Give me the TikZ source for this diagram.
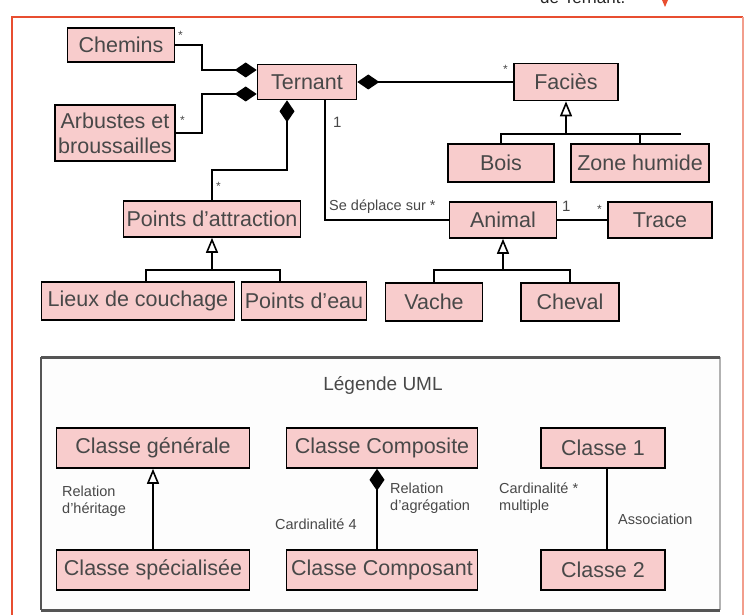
\documentclass[tikz,border=0pt]{standalone}
\usepackage{fontspec}
\setmainfont{Liberation Sans}
\usetikzlibrary{arrows.meta}
\definecolor{boxpink}{RGB}{248,204,204}
\definecolor{txtgray}{RGB}{72,72,72}
\definecolor{framered}{RGB}{232,78,48}
\definecolor{legborder}{RGB}{85,85,85}
\definecolor{legbg}{RGB}{253,253,253}
\begin{document}
\begin{tikzpicture}[x=1pt,y=-1pt,
  cls/.style={draw=black, line width=1.6pt, fill=boxpink, text=txtgray,
    font=\fontsize{21.5}{25}\selectfont, inner sep=0pt, align=center},
  conn/.style={draw=black, line width=1.6pt},
  lbl/.style={text=txtgray, font=\fontsize{14.5}{17}\selectfont, inner sep=0pt},
  mult/.style={text=txtgray, font=\fontsize{12}{14}\selectfont, inner sep=0pt},
  comp/.style={conn, {Diamond[length=22pt,width=15pt]}-},
  inh/.style={conn, {Triangle[open,length=15pt,width=12pt,line width=1.6pt]}-}
]
\useasboundingbox (0,0) rectangle (745,615);

% outer red frame and clipped header
\draw[framered, line width=1.5pt] (743,625) -- (12,625) -- (12,17) -- (743,17);
\draw[framered!55, line width=1.2pt] (743,17) -- (743,625);
\node[anchor=base west, font=\fontsize{17}{20}\selectfont, text=black!85, inner sep=0pt] (topt) at (540,4) {de Ternant.};
\fill[framered] (662,0) -- (668,0) -- (665,7) -- cycle;
\draw[framered, line width=1.2pt] (665,-4) -- (665,2);

% main diagram classes
\node[cls, minimum width=107pt, minimum height=34pt] (chemins) at (121,45) {Chemins};
\node[cls, minimum width=99pt, minimum height=35pt] (ternant) at (307,82) {Ternant};
\node[cls, minimum width=120pt, minimum height=56pt] (arbustes) at (115,133) {Arbustes et\\broussailles};
\node[cls, minimum width=104pt, minimum height=37pt] (facies) at (566,82) {Faciès};
\node[cls, minimum width=106pt, minimum height=38pt] (bois) at (501,163) {Bois};
\node[cls, minimum width=138pt, minimum height=38pt] (zone) at (640,163) {Zone humide};
\node[cls, minimum width=177pt, minimum height=36pt] (pattr) at (212,219) {Points d'attraction};
\node[cls, minimum width=107pt, minimum height=36pt] (animal) at (503,220) {Animal};
\node[cls, minimum width=104pt, minimum height=36pt] (trace) at (660,220) {Trace};
\node[cls, minimum width=193pt, minimum height=38pt] (lieux) at (138,301) {Lieux de couchage};
\node[cls, minimum width=125pt, minimum height=38pt] (peau) at (304,301) {Points d'eau};
\node[cls, minimum width=97pt, minimum height=38pt] (vache) at (434,302) {Vache};
\node[cls, minimum width=98pt, minimum height=38pt] (cheval) at (570,302) {Cheval};

% connectors
\draw[comp] ([yshift=12pt]ternant.west) -- (202,70) |- (chemins.east);
\draw[comp] ([yshift=-12pt]ternant.west) -- (202,94) |- (arbustes.east);
\draw[comp] ([xshift=-20pt]ternant.south) -- (287,170) -| (pattr.north);
\draw[conn] ([xshift=18pt]ternant.south) |- (animal.west);
\draw[comp] (ternant.east) -- (facies.west);
\draw[conn] (animal.east) -- (trace.west);

\coordinate (fj) at (566,134);
\coordinate (fend) at (681,134);
\draw[inh] (facies.south) -- (fj);
\draw[conn] (bois.north) |- (fj) -- (fend);
\draw[conn] (zone.north) -- (zone.north |- fj);

\coordinate (pj) at (212,270);
\draw[inh] (pattr.south) -- (pj);
\draw[conn] ([xshift=8pt]lieux.north) |- (pj) -| ([xshift=-24pt]peau.north);

\coordinate (aj) at (503,270);
\draw[inh] (animal.south) -- (aj);
\draw[conn] (vache.north) |- (aj) -| (cheval.north);

% multiplicities
\node[mult, anchor=west] (s1) at (178,35) {*};
\node[mult, anchor=west] (s2) at (180,120) {*};
\node[mult, anchor=west, font=\fontsize{15}{17}\selectfont] (o1) at (333,122) {1};
\node[mult, anchor=west] (s3) at (216,186) {*};
\node[mult, anchor=west] (s4) at (503,69) {*};
\node[lbl, anchor=west] (mv) at (329,207) {Se déplace sur *};
\node[mult, anchor=west, font=\fontsize{15}{17}\selectfont] (o2) at (562,206) {1};
\node[mult, anchor=west] (s5) at (597,209) {*};

% legend
\fill[legbg] (41,357) rectangle (720,610);
\draw[legborder, line width=1.3pt] (41,357) -- (41,610);
\draw[legborder!45, line width=1.3pt] (720,357) -- (720,610);
\draw[legborder, line width=3pt] (41,357) -- (720,357);
\draw[legborder, line width=3pt] (41,610) -- (720,610);
\node[text=txtgray, font=\fontsize{19}{21}\selectfont, inner sep=0pt] (legtitle) at (383,385) {Légende UML};

\node[cls, minimum width=193pt, minimum height=40pt] (gen) at (153,448) {Classe générale};
\node[cls, minimum width=193pt, minimum height=40pt] (spec) at (153,570) {Classe spécialisée};
\node[cls, minimum width=191pt, minimum height=40pt] (compo) at (382,448) {Classe Composite};
\node[cls, minimum width=191pt, minimum height=40pt] (compt) at (382,570) {Classe Composant};
\node[cls, minimum width=124pt, minimum height=40pt] (c1) at (603,448) {Classe 1};
\node[cls, minimum width=124pt, minimum height=40pt] (c2) at (603,570) {Classe 2};

\draw[inh] (gen.south) -- (spec.north);
\draw[comp] ([xshift=-5pt]compo.south) -- ([xshift=-5pt]compt.north);
\draw[conn, line width=1.3pt] ([xshift=4pt]c1.south) -- ([xshift=4pt]c2.north);

\node[lbl, align=left, anchor=north west] (l1) at (62,486) {Relation\\d'héritage};
\node[lbl, align=left, anchor=north west] (l2) at (390,483) {Relation\\d'agrégation};
\node[lbl, anchor=west] (l3) at (275,524) {Cardinalité 4};
\node[lbl, align=left, anchor=north west] (l4) at (499,483) {Cardinalité *\\multiple};
\node[lbl, anchor=west] (l5) at (618,519) {Association};
\end{tikzpicture}
\end{document}
